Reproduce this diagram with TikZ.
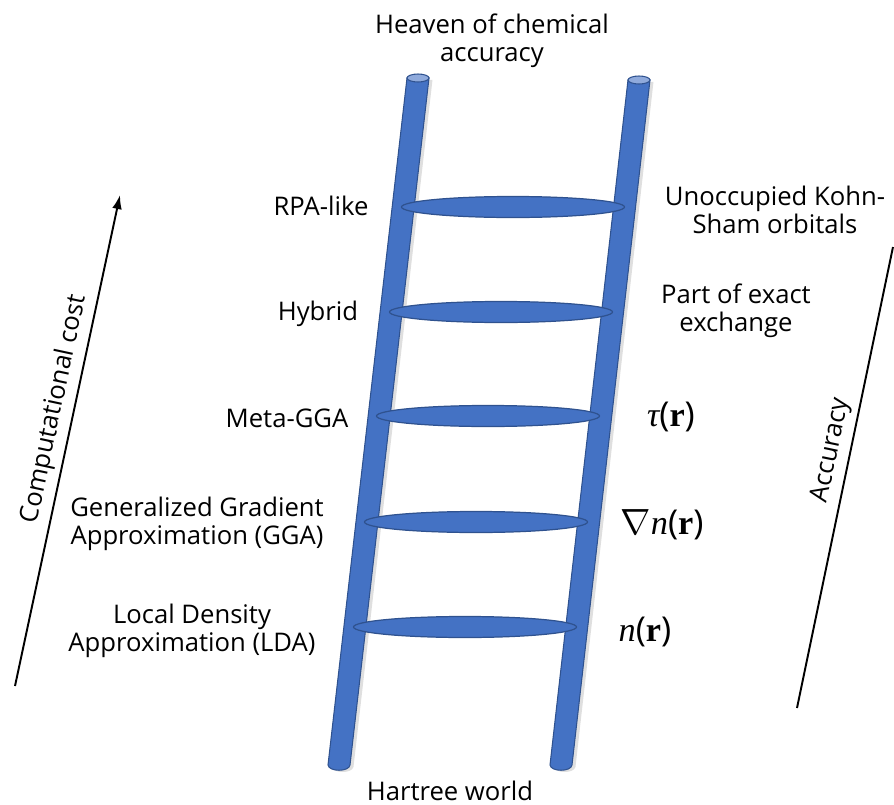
\documentclass[tikz,border=0pt]{standalone}
\usepackage{fontspec}
\setmainfont{Open Sans}
\newfontfamily\timesfont{Liberation Serif}
\usepackage{tikz}
\usetikzlibrary{shapes.geometric, arrows.meta, positioning, shadows}
\definecolor{rungblue}{RGB}{68, 114, 196}
\definecolor{rungedge}{RGB}{47, 82, 143}
\definecolor{capblue}{RGB}{143, 170, 220}

\begin{document}
\begin{tikzpicture}[
  x=0.02cm, y=-0.02cm,
  rail/.style={fill=rungblue, draw=rungedge, line width=0.6pt, drop shadow={opacity=0.25, shadow xshift=2pt, shadow yshift=-1pt}},
  railcap/.style={fill=capblue, draw=rungedge, line width=0.6pt},
  rung/.style={ellipse, fill=rungblue, draw=rungedge, line width=0.7pt, minimum width=4.46cm, minimum height=0.42cm, inner sep=0pt},
  heading/.style={font=\fontsize{14.6}{16.2}\selectfont, align=center, inner sep=0pt},
  quantity/.style={font=\fontsize{19.5}{22}\selectfont, inner sep=0pt},
  axis/.style={line width=1.1pt}
]
  \useasboundingbox (0,0) rectangle (894,805);

  % Ladder rails
  \path[rail] (407,78) -- (328,765) .. controls (329,772) and (349,772) .. (350,765) -- (429,78) -- cycle;
  \draw[railcap] (418,78) ellipse (11 and 4);
  \path[rail] (628,80) -- (550,765) .. controls (551,772) and (571,772) .. (572,765) -- (650,80) -- cycle;
  \draw[railcap] (639,80) ellipse (11 and 4);

  % Rungs
  \node[rung] (rpa) at (513,207) {};
  \node[rung] (hybrid) at (501,312) {};
  \node[rung] (meta) at (488,416) {};
  \node[rung] (gga) at (476,522) {};
  \node[rung] (lda) at (465,627) {};

  % Top and bottom
  \node[heading] (heaven) at (492,41) {Heaven of chemical\\accuracy};
  \node[heading, anchor=base] (hartree) at (450,800) {Hartree world};

  % Functional names
  \node[heading, anchor=base] (rpaname) at (321,215) {RPA-like};
  \node[heading, anchor=base] (hybridname) at (318,320) {Hybrid};
  \node[heading, anchor=base] (metaname) at (287,427) {Meta-GGA};
  \node[heading] (gganame) at (197,524) {Generalized Gradient\\Approximation (GGA)};
  \node[heading] (ldaname) at (192,631) {Local Density\\Approximation (LDA)};

  % Ingredients
  \node[heading] (rpaingr) at (775,210) {Unoccupied Kohn-\\Sham orbitals};
  \node[heading] (hybridingr) at (736,311) {Part of exact\\exchange};
  \node[quantity, anchor=base] (metaingr) at (671,426) {{\timesfont\itshape τ}({\timesfont\bfseries r})};
  \node[quantity, anchor=base] (ggaingr) at (662,534) {$\nabla${\timesfont\itshape n}({\timesfont\bfseries r})};
  \node[quantity, anchor=base] (ldaingr) at (645,641) {{\timesfont\itshape n}({\timesfont\bfseries r})};

  % Cost and accuracy
  \coordinate (cost0) at (15,686);
  \coordinate (cost1) at (120,195);
  \draw[axis, -{Latex[length=8pt, width=5.5pt]}] (cost0) -- (cost1)
    node[heading, pos=0.556, sloped, anchor=south, inner sep=3pt] (costname) {Computational cost};
  \coordinate (acc0) at (797,708);
  \coordinate (acc1) at (893,247);
  \draw[axis] (acc0) -- (acc1)
    node[heading, pos=0.55, sloped, anchor=south, inner sep=3pt] (accname) {Accuracy};
\end{tikzpicture}
\end{document}
